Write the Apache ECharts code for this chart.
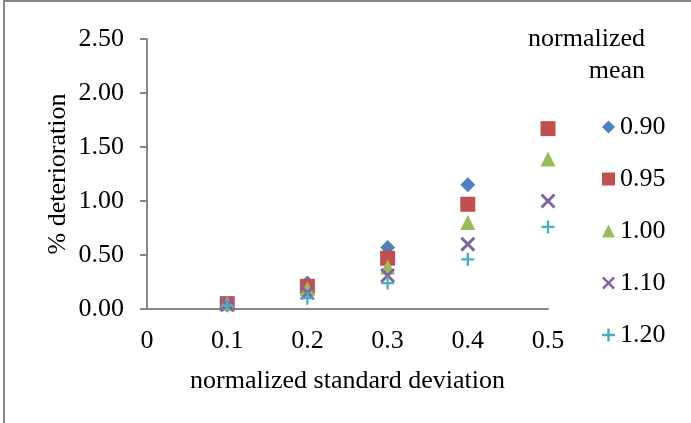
<!DOCTYPE html>
<html><head><meta charset="utf-8">
<script src="https://cdn.jsdelivr.net/npm/echarts@6/dist/echarts.min.js"></script>
<style>html,body{margin:0;padding:0;background:#fff}#c{width:691px;height:423px}</style>
</head><body><div id="c"></div>
<script>
const xValues = [0.1, 0.2, 0.3, 0.4, 0.5];
const xTickLabels = ['0', '0.1', '0.2', '0.3', '0.4', '0.5'];
const yTickLabels = ['0.00', '0.50', '1.00', '1.50', '2.00', '2.50'];
const seriesNames = ['0.90', '0.95', '1.00', '1.10', '1.20'];
const s090 = [0.05, 0.24, 0.57, 1.15, null];
const s095 = [0.05, 0.21, 0.47, 0.97, 1.67];
const s100 = [0.05, 0.19, 0.39, 0.80, 1.39];
const s110 = [0.04, 0.15, 0.31, 0.60, 1.00];
const s120 = [0.03, 0.10, 0.24, 0.46, 0.76];

const FONT = 'Liberation Serif';
const FS = 26;
const colors = ['#4F81BD', '#C0504D', '#9BBB59', '#8064A2', '#4BACC6'];
const XPATH = 'path://M0,1.4L1.4,0L5,3.6L8.6,0L10,1.4L6.4,5L10,8.6L8.6,10L5,6.4L1.4,10L0,8.6L3.6,5Z';
const PLUS = 'path://M4.1,0H5.9V4.1H10V5.9H5.9V10H4.1V5.9H0V4.1H4.1Z';
const symbols = ['diamond', 'rect', 'triangle', XPATH, PLUS];
const sizes = [15, 15, 15, 15, 13];
const allData = [s090, s095, s100, s110, s120];

const chart = echarts.init(document.getElementById('c'));
chart.setOption({
  animation: false,
  backgroundColor: '#fff',
  textStyle: { fontFamily: FONT },
  grid: { left: 147, top: 39, width: 401, height: 270 },
  xAxis: {
    type: 'value', min: 0, max: 0.5, interval: 0.1,
    name: 'normalized standard deviation', nameLocation: 'middle', nameGap: 59,
    nameTextStyle: { fontFamily: FONT, fontSize: FS, color: '#000' },
    axisLine: { show: true, onZero: false, lineStyle: { color: '#878787', width: 2 } },
    axisTick: { show: false },
    splitLine: { show: false },
    axisLabel: { margin: 19, fontFamily: FONT, fontSize: FS, color: '#000',
      formatter: (v) => xTickLabels[Math.round(v * 10)] }
  },
  yAxis: {
    type: 'value', min: 0, max: 2.5, interval: 0.5,
    name: '% deterioration', nameLocation: 'middle', nameGap: 76, nameRotate: 90,
    nameMoveOverlap: false,
    nameTextStyle: { fontFamily: FONT, fontSize: FS, color: '#000' },
    axisLine: { show: true, lineStyle: { color: '#878787', width: 2 } },
    axisTick: { show: true, length: 7, inside: false, lineStyle: { color: '#878787', width: 2 } },
    splitLine: { show: false },
    axisLabel: { margin: 23, fontFamily: FONT, fontSize: FS, color: '#000',
      formatter: (v) => yTickLabels[Math.round(v * 2)] }
  },
  legend: {
    orient: 'vertical', left: 597, top: 109, itemWidth: 13, itemHeight: 13, itemGap: 26,
    textStyle: { fontFamily: FONT, fontSize: FS, color: '#000', lineHeight: 26 },
    data: seriesNames.map((n, i) => ({ name: n, icon: symbols[i] }))
  },
  graphic: [
    { type: 'rect', shape: { x: 4, y: 1, width: 800, height: 600 }, silent: true,
      style: { fill: 'none', stroke: '#878787', lineWidth: 2 } },
    { type: 'text', x: 645, y: 23, silent: true,
      style: { text: 'normalized\nmean', align: 'right', verticalAlign: 'top',
        font: FS + 'px "' + FONT + '"', lineHeight: 32, fill: '#000' } }
  ],
  series: seriesNames.map((n, i) => ({
    name: n, type: 'scatter', symbol: symbols[i], symbolSize: sizes[i],
    itemStyle: { color: colors[i], opacity: 1 },
    data: xValues.map((x, j) => allData[i][j] == null ? null : [x, allData[i][j]]).filter(d => d)
  }))
});
</script></body></html>
